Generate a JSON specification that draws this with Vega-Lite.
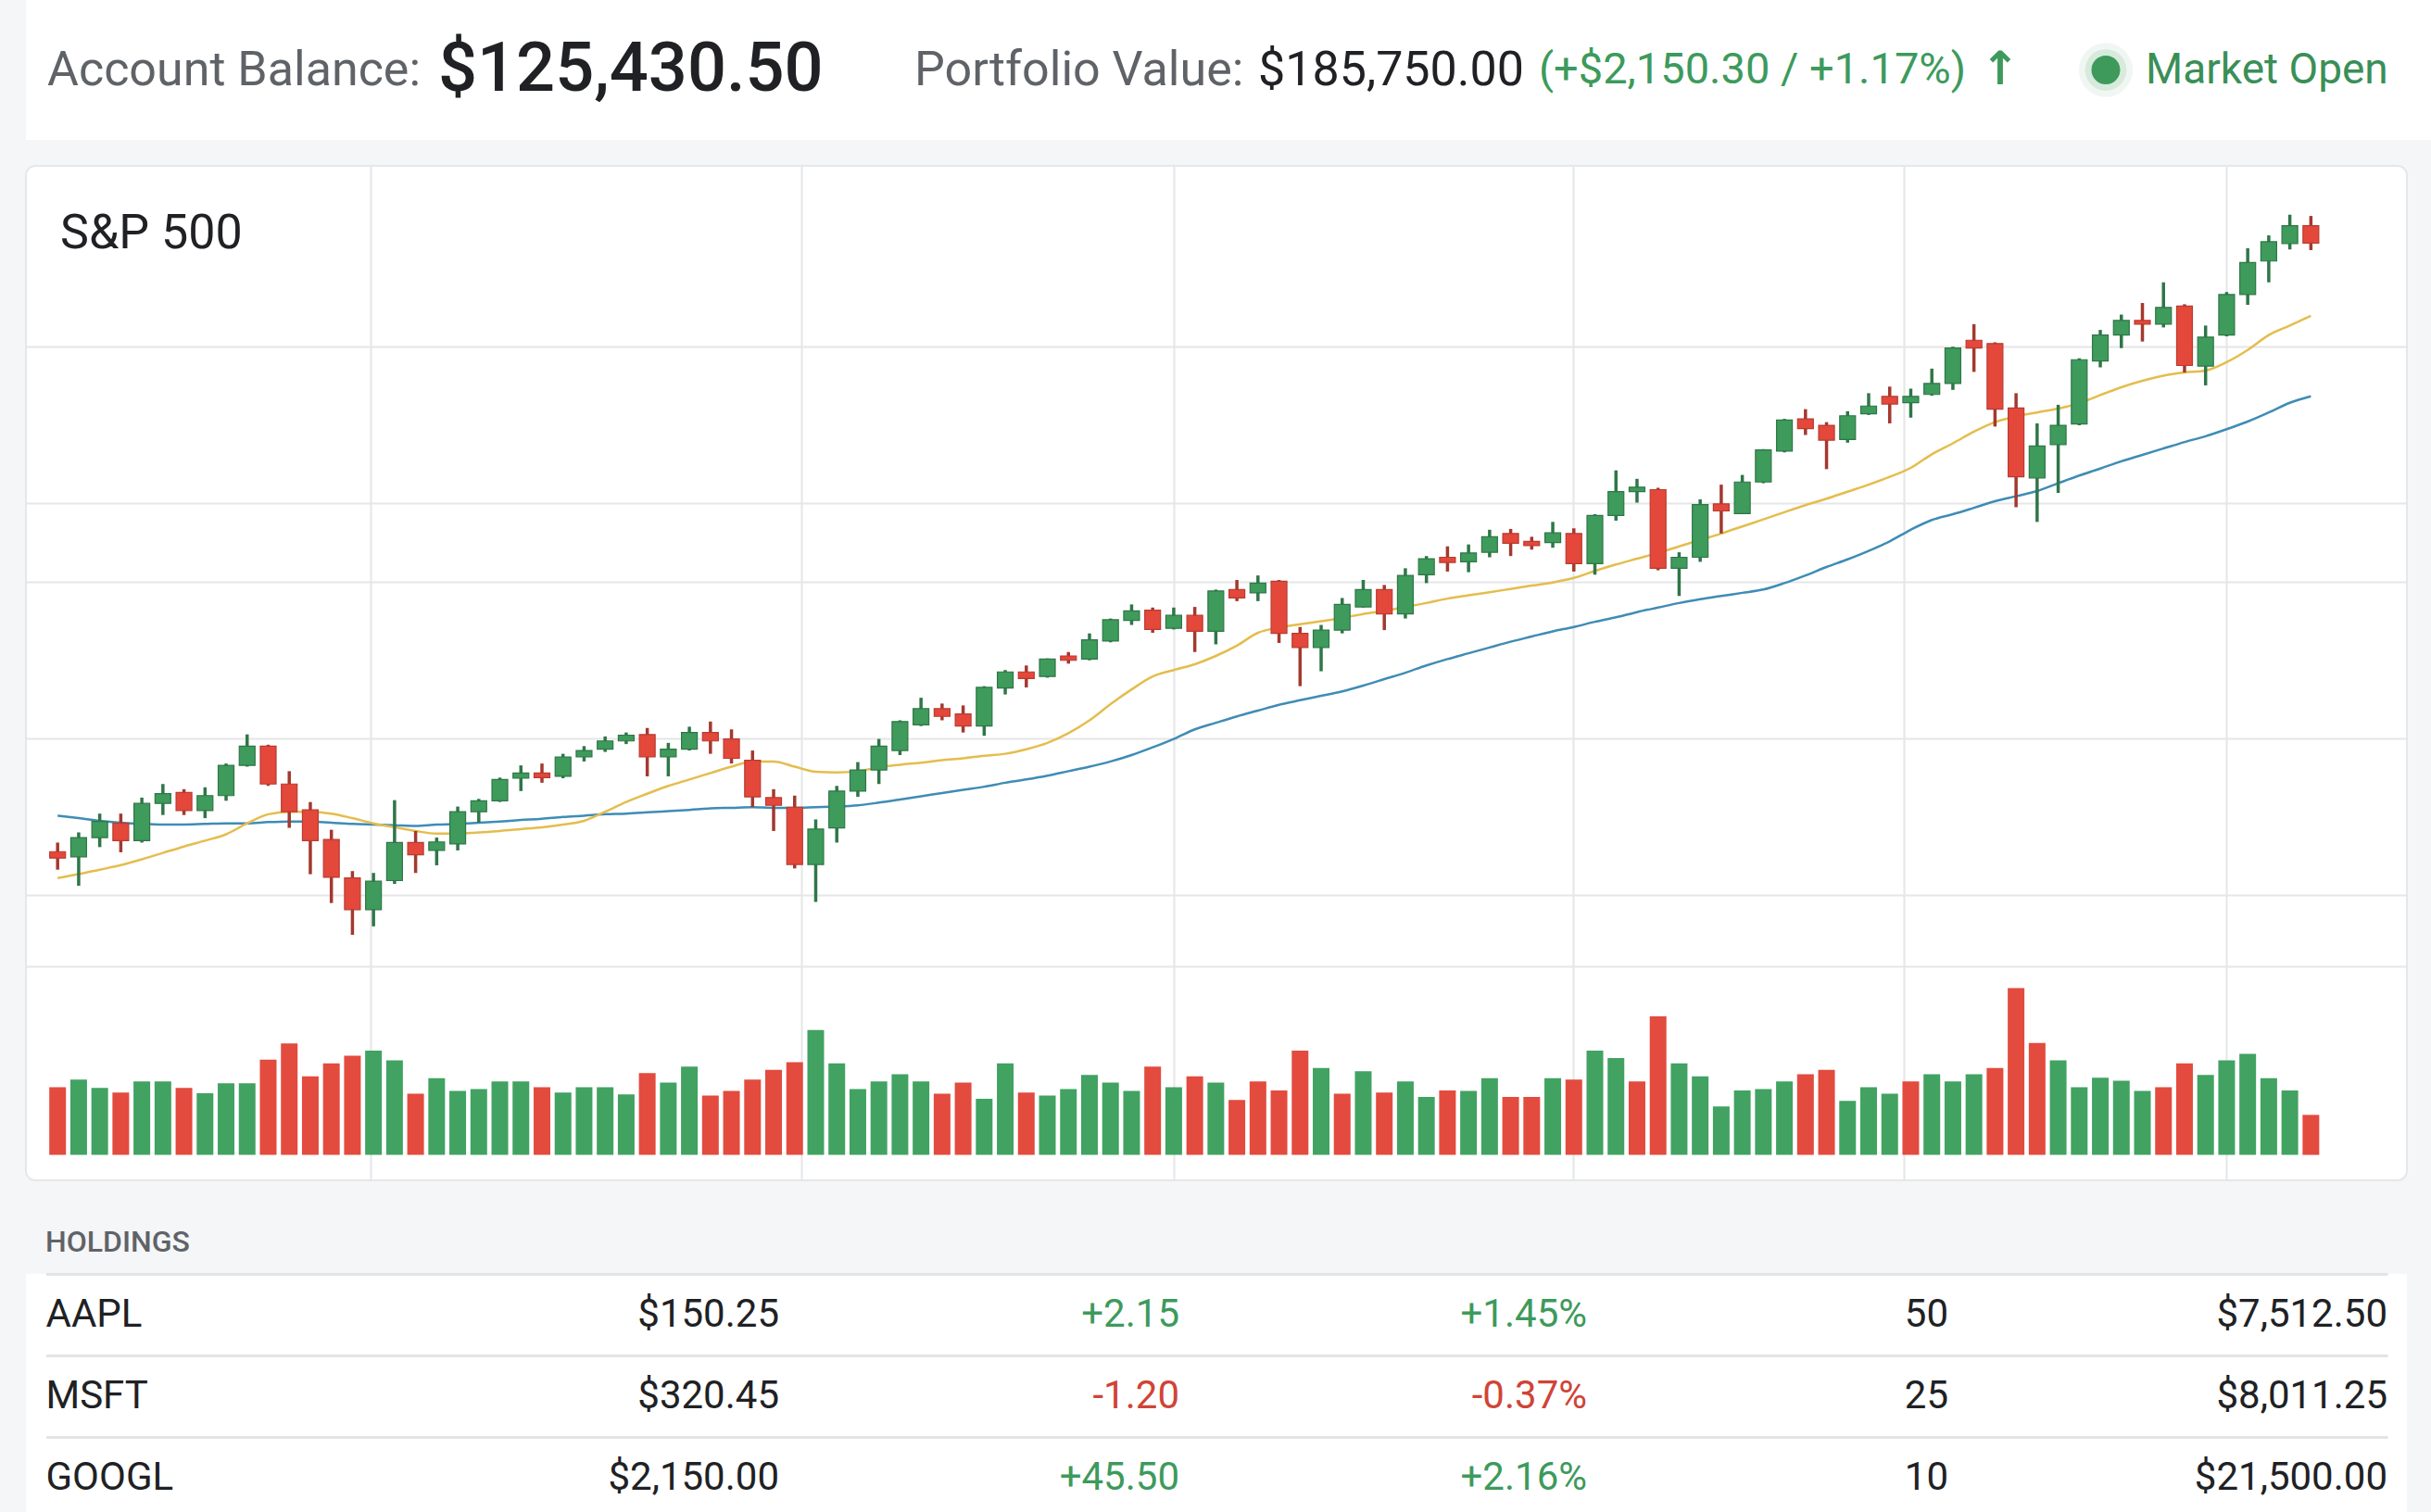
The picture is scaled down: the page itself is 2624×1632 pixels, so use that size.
{
  "$schema": "https://vega.github.io/schema/vega-lite/v6.json",
  "padding": {"left": 27, "top": 0, "right": 0, "bottom": 0},
  "background": "#f5f6f8",
  "spacing": 27,
  "config": {
    "view": {"stroke": null},
    "font": "Roboto",
    "locale": {"number": {"decimal": ".", "thousands": ",", "grouping": [3], "currency": ["$", ""], "minus": "-"}},
    "axis": {"labels": false, "ticks": false, "domain": false, "title": null}
  },
  "datasets": {
    "summary": [{"balance": 125430.5, "portfolio": 185750.0, "change": "(+$2,150.30 / +1.17%)", "status": "Market Open"}],
    "holdings": [
      {"symbol": "AAPL", "price": 150.25, "change": 2.15, "pct": 0.0145, "qty": 50, "value": 7512.5},
      {"symbol": "MSFT", "price": 320.45, "change": -1.2, "pct": -0.0037, "qty": 25, "value": 8011.25},
      {"symbol": "GOOGL", "price": 2150.0, "change": 45.5, "pct": 0.0216, "qty": 10, "value": 21500.0}
    ],
    "candles": [
      {"day":0,"open":4477.4,"high":4483.2,"low":4465.9,"close":4473.3,"volume":2.18,"volDir":"down","sma20":4460.5,"sma50":4500.4},
      {"day":1,"open":4474.1,"high":4489.7,"low":4455.6,"close":4486.4,"volume":2.43,"volDir":"up","sma20":4463.0,"sma50":4498.8},
      {"day":2,"open":4486.4,"high":4501.7,"low":4480.3,"close":4496.7,"volume":2.16,"volDir":"up","sma20":4465.9,"sma50":4497.1},
      {"day":3,"open":4495.5,"high":4501.7,"low":4477.0,"close":4484.4,"volume":2.01,"volDir":"down","sma20":4468.8,"sma50":4495.9},
      {"day":4,"open":4484.4,"high":4511.9,"low":4483.2,"close":4508.2,"volume":2.37,"volDir":"up","sma20":4472.5,"sma50":4495.1},
      {"day":5,"open":4508.2,"high":4520.6,"low":4500.8,"close":4514.4,"volume":2.37,"volDir":"up","sma20":4476.6,"sma50":4494.7},
      {"day":6,"open":4515.2,"high":4517.3,"low":4500.8,"close":4503.7,"volume":2.16,"volDir":"down","sma20":4480.7,"sma50":4494.7},
      {"day":7,"open":4503.7,"high":4518.5,"low":4498.8,"close":4513.2,"volume":1.99,"volDir":"up","sma20":4484.4,"sma50":4495.1},
      {"day":8,"open":4513.2,"high":4533.7,"low":4509.9,"close":4532.5,"volume":2.31,"volDir":"up","sma20":4488.5,"sma50":4495.5},
      {"day":9,"open":4532.5,"high":4552.3,"low":4531.7,"close":4544.8,"volume":2.31,"volDir":"up","sma20":4495.5,"sma50":4495.5},
      {"day":10,"open":4544.8,"high":4545.7,"low":4519.4,"close":4520.6,"volume":3.07,"volDir":"down","sma20":4501.3,"sma50":4496.3},
      {"day":11,"open":4520.6,"high":4528.8,"low":4492.6,"close":4502.9,"volume":3.59,"volDir":"down","sma20":4502.9,"sma50":4496.7},
      {"day":12,"open":4504.1,"high":4509.1,"low":4463.0,"close":4484.4,"volume":2.53,"volDir":"down","sma20":4502.9,"sma50":4496.7},
      {"day":13,"open":4485.2,"high":4491.4,"low":4444.6,"close":4461.0,"volume":2.95,"volDir":"down","sma20":4501.7,"sma50":4495.9},
      {"day":14,"open":4460.6,"high":4465.0,"low":4424.3,"close":4440.4,"volume":3.20,"volDir":"down","sma20":4498.8,"sma50":4495.1},
      {"day":15,"open":4440.4,"high":4463.8,"low":4429.7,"close":4458.5,"volume":3.36,"volDir":"up","sma20":4495.5,"sma50":4494.7},
      {"day":16,"open":4458.9,"high":4510.3,"low":4456.8,"close":4483.2,"volume":3.05,"volDir":"up","sma20":4493.0,"sma50":4494.3},
      {"day":17,"open":4483.2,"high":4490.6,"low":4463.8,"close":4475.4,"volume":1.97,"volDir":"down","sma20":4490.6,"sma50":4493.8},
      {"day":18,"open":4478.2,"high":4486.4,"low":4468.7,"close":4483.6,"volume":2.47,"volDir":"up","sma20":4488.9,"sma50":4494.7},
      {"day":19,"open":4482.3,"high":4506.2,"low":4478.2,"close":4502.9,"volume":2.06,"volDir":"up","sma20":4488.9,"sma50":4495.1},
      {"day":20,"open":4502.9,"high":4511.1,"low":4495.9,"close":4509.9,"volume":2.12,"volDir":"up","sma20":4489.7,"sma50":4495.9},
      {"day":21,"open":4509.9,"high":4524.7,"low":4509.1,"close":4523.5,"volume":2.37,"volDir":"up","sma20":4490.6,"sma50":4496.7},
      {"day":22,"open":4524.3,"high":4532.5,"low":4516.1,"close":4527.6,"volume":2.37,"volDir":"up","sma20":4491.8,"sma50":4497.6},
      {"day":23,"open":4527.6,"high":4533.7,"low":4521.4,"close":4524.7,"volume":2.18,"volDir":"down","sma20":4493.0,"sma50":4498.4},
      {"day":24,"open":4525.5,"high":4539.9,"low":4524.3,"close":4537.9,"volume":2.01,"volDir":"up","sma20":4494.7,"sma50":4499.6},
      {"day":25,"open":4537.9,"high":4544.8,"low":4535.0,"close":4542.0,"volume":2.18,"volDir":"up","sma20":4497.1,"sma50":4500.4},
      {"day":26,"open":4542.8,"high":4551.0,"low":4541.1,"close":4548.1,"volume":2.18,"volDir":"up","sma20":4502.9,"sma50":4501.3},
      {"day":27,"open":4548.1,"high":4553.5,"low":4546.1,"close":4551.8,"volume":1.95,"volDir":"up","sma20":4509.1,"sma50":4501.7},
      {"day":28,"open":4552.2,"high":4556.4,"low":4525.5,"close":4537.9,"volume":2.64,"volDir":"down","sma20":4514.4,"sma50":4502.5},
      {"day":29,"open":4537.9,"high":4546.9,"low":4525.5,"close":4542.8,"volume":2.33,"volDir":"up","sma20":4519.4,"sma50":4503.3},
      {"day":30,"open":4542.8,"high":4557.2,"low":4542.0,"close":4553.5,"volume":2.85,"volDir":"up","sma20":4523.5,"sma50":4504.1},
      {"day":31,"open":4553.5,"high":4560.5,"low":4539.9,"close":4548.1,"volume":1.91,"volDir":"down","sma20":4527.6,"sma50":4505.0},
      {"day":32,"open":4549.4,"high":4555.5,"low":4533.7,"close":4537.0,"volume":2.06,"volDir":"down","sma20":4531.7,"sma50":4505.4},
      {"day":33,"open":4535.8,"high":4542.0,"low":4505.8,"close":4512.4,"volume":2.43,"volDir":"down","sma20":4535.0,"sma50":4505.8},
      {"day":34,"open":4511.9,"high":4517.3,"low":4490.6,"close":4507.0,"volume":2.74,"volDir":"down","sma20":4535.0,"sma50":4505.4},
      {"day":35,"open":4505.8,"high":4513.2,"low":4466.7,"close":4469.2,"volume":2.99,"volDir":"down","sma20":4531.7,"sma50":4505.4},
      {"day":36,"open":4469.2,"high":4498.0,"low":4445.3,"close":4491.8,"volume":4.03,"volDir":"up","sma20":4528.4,"sma50":4505.8},
      {"day":37,"open":4492.6,"high":4519.4,"low":4483.2,"close":4516.1,"volume":2.95,"volDir":"up","sma20":4528.0,"sma50":4506.2},
      {"day":38,"open":4516.1,"high":4534.6,"low":4512.4,"close":4529.6,"volume":2.12,"volDir":"up","sma20":4528.8,"sma50":4507.0},
      {"day":39,"open":4529.6,"high":4549.4,"low":4520.6,"close":4544.8,"volume":2.37,"volDir":"up","sma20":4531.3,"sma50":4508.7},
      {"day":40,"open":4542.0,"high":4561.3,"low":4539.1,"close":4560.5,"volume":2.60,"volDir":"up","sma20":4532.9,"sma50":4510.7},
      {"day":41,"open":4558.4,"high":4575.7,"low":4557.6,"close":4568.7,"volume":2.37,"volDir":"up","sma20":4534.2,"sma50":4512.8},
      {"day":42,"open":4568.7,"high":4572.0,"low":4561.3,"close":4563.8,"volume":1.97,"volDir":"down","sma20":4535.8,"sma50":4514.8},
      {"day":43,"open":4565.4,"high":4570.8,"low":4553.5,"close":4557.6,"volume":2.33,"volDir":"down","sma20":4537.0,"sma50":4516.9},
      {"day":44,"open":4557.6,"high":4583.1,"low":4551.4,"close":4582.3,"volume":1.81,"volDir":"up","sma20":4538.7,"sma50":4518.9},
      {"day":45,"open":4581.9,"high":4593.4,"low":4577.8,"close":4592.2,"volume":2.95,"volDir":"up","sma20":4539.9,"sma50":4521.4},
      {"day":46,"open":4592.2,"high":4596.3,"low":4582.3,"close":4588.0,"volume":2.01,"volDir":"down","sma20":4542.8,"sma50":4523.5},
      {"day":47,"open":4589.3,"high":4600.8,"low":4588.5,"close":4600.4,"volume":1.91,"volDir":"up","sma20":4546.9,"sma50":4525.9},
      {"day":48,"open":4602.4,"high":4604.9,"low":4597.5,"close":4599.6,"volume":2.12,"volDir":"up","sma20":4553.1,"sma50":4528.8},
      {"day":49,"open":4600.4,"high":4616.8,"low":4599.6,"close":4612.7,"volume":2.58,"volDir":"up","sma20":4561.3,"sma50":4531.7},
      {"day":50,"open":4611.9,"high":4626.3,"low":4611.1,"close":4625.5,"volume":2.33,"volDir":"up","sma20":4571.6,"sma50":4535.0},
      {"day":51,"open":4625.1,"high":4635.3,"low":4622.2,"close":4631.2,"volume":2.06,"volDir":"up","sma20":4581.0,"sma50":4539.1},
      {"day":52,"open":4631.6,"high":4633.3,"low":4617.2,"close":4619.3,"volume":2.85,"volDir":"down","sma20":4589.3,"sma50":4544.0},
      {"day":53,"open":4620.1,"high":4633.3,"low":4619.3,"close":4628.3,"volume":2.18,"volDir":"up","sma20":4593.4,"sma50":4549.4},
      {"day":54,"open":4628.3,"high":4633.7,"low":4604.9,"close":4618.1,"volume":2.53,"volDir":"down","sma20":4597.1,"sma50":4555.5},
      {"day":55,"open":4618.1,"high":4644.8,"low":4609.8,"close":4643.9,"volume":2.33,"volDir":"up","sma20":4602.4,"sma50":4559.7},
      {"day":56,"open":4644.8,"high":4650.9,"low":4637.4,"close":4639.4,"volume":1.77,"volDir":"down","sma20":4609.0,"sma50":4563.8},
      {"day":57,"open":4642.7,"high":4653.8,"low":4637.4,"close":4648.9,"volume":2.37,"volDir":"down","sma20":4617.2,"sma50":4567.5},
      {"day":58,"open":4650.1,"high":4650.9,"low":4610.7,"close":4616.8,"volume":2.08,"volDir":"down","sma20":4620.5,"sma50":4571.2},
      {"day":59,"open":4616.8,"high":4620.9,"low":4583.1,"close":4607.8,"volume":3.36,"volDir":"down","sma20":4622.6,"sma50":4574.1},
      {"day":60,"open":4607.8,"high":4622.2,"low":4592.6,"close":4618.9,"volume":2.80,"volDir":"up","sma20":4624.6,"sma50":4576.9},
      {"day":61,"open":4618.9,"high":4639.4,"low":4616.8,"close":4635.3,"volume":1.97,"volDir":"down","sma20":4626.7,"sma50":4579.8},
      {"day":62,"open":4633.7,"high":4650.9,"low":4633.3,"close":4644.8,"volume":2.70,"volDir":"up","sma20":4629.2,"sma50":4583.5},
      {"day":63,"open":4644.8,"high":4647.7,"low":4618.9,"close":4629.2,"volume":2.01,"volDir":"down","sma20":4631.2,"sma50":4587.6},
      {"day":64,"open":4629.2,"high":4658.4,"low":4626.3,"close":4653.8,"volume":2.37,"volDir":"up","sma20":4633.7,"sma50":4591.7},
      {"day":65,"open":4654.3,"high":4666.2,"low":4648.9,"close":4664.5,"volume":1.87,"volDir":"up","sma20":4636.2,"sma50":4596.3},
      {"day":66,"open":4665.4,"high":4672.4,"low":4656.3,"close":4662.1,"volume":2.08,"volDir":"down","sma20":4639.0,"sma50":4600.4},
      {"day":67,"open":4662.5,"high":4673.6,"low":4655.9,"close":4668.2,"volume":2.06,"volDir":"up","sma20":4641.1,"sma50":4604.1},
      {"day":68,"open":4668.6,"high":4683.0,"low":4665.4,"close":4678.5,"volume":2.47,"volDir":"up","sma20":4643.1,"sma50":4607.8},
      {"day":69,"open":4680.6,"high":4683.5,"low":4666.2,"close":4674.4,"volume":1.87,"volDir":"down","sma20":4645.2,"sma50":4611.5},
      {"day":70,"open":4675.6,"high":4678.5,"low":4670.3,"close":4672.8,"volume":1.87,"volDir":"down","sma20":4647.3,"sma50":4614.8},
      {"day":71,"open":4674.8,"high":4688.0,"low":4671.5,"close":4681.0,"volume":2.47,"volDir":"up","sma20":4649.3,"sma50":4618.1},
      {"day":72,"open":4680.6,"high":4683.9,"low":4656.3,"close":4661.3,"volume":2.43,"volDir":"down","sma20":4652.2,"sma50":4620.9},
      {"day":73,"open":4661.3,"high":4692.9,"low":4654.3,"close":4692.1,"volume":3.36,"volDir":"up","sma20":4656.7,"sma50":4624.2},
      {"day":74,"open":4692.1,"high":4720.9,"low":4688.8,"close":4707.3,"volume":3.12,"volDir":"up","sma20":4660.8,"sma50":4627.1},
      {"day":75,"open":4707.3,"high":4715.5,"low":4700.3,"close":4710.2,"volume":2.37,"volDir":"down","sma20":4664.5,"sma50":4630.4},
      {"day":76,"open":4708.6,"high":4709.8,"low":4657.1,"close":4658.4,"volume":4.47,"volDir":"down","sma20":4668.2,"sma50":4633.3},
      {"day":77,"open":4658.4,"high":4668.6,"low":4640.7,"close":4665.4,"volume":2.95,"volDir":"up","sma20":4672.4,"sma50":4636.2},
      {"day":78,"open":4665.4,"high":4702.4,"low":4662.5,"close":4699.1,"volume":2.53,"volDir":"up","sma20":4676.5,"sma50":4638.6},
      {"day":79,"open":4699.5,"high":4711.8,"low":4680.6,"close":4695.0,"volume":1.56,"volDir":"up","sma20":4680.6,"sma50":4640.7},
      {"day":80,"open":4693.3,"high":4718.0,"low":4692.9,"close":4713.5,"volume":2.08,"volDir":"up","sma20":4685.1,"sma50":4642.7},
      {"day":81,"open":4713.5,"high":4734.5,"low":4712.7,"close":4734.0,"volume":2.12,"volDir":"up","sma20":4689.6,"sma50":4644.8},
      {"day":82,"open":4733.2,"high":4753.8,"low":4732.4,"close":4753.0,"volume":2.37,"volDir":"up","sma20":4694.2,"sma50":4648.9},
      {"day":83,"open":4753.8,"high":4760.0,"low":4743.5,"close":4747.6,"volume":2.60,"volDir":"down","sma20":4698.7,"sma50":4653.8},
      {"day":84,"open":4749.7,"high":4751.7,"low":4721.7,"close":4740.2,"volume":2.74,"volDir":"down","sma20":4702.8,"sma50":4659.2},
      {"day":85,"open":4740.6,"high":4758.7,"low":4738.6,"close":4755.8,"volume":1.74,"volDir":"up","sma20":4707.3,"sma50":4664.1},
      {"day":86,"open":4757.1,"high":4770.2,"low":4756.3,"close":4762.0,"volume":2.18,"volDir":"up","sma20":4711.8,"sma50":4669.5},
      {"day":87,"open":4768.2,"high":4774.4,"low":4750.9,"close":4763.3,"volume":1.97,"volDir":"up","sma20":4716.8,"sma50":4675.6},
      {"day":88,"open":4764.1,"high":4773.1,"low":4754.6,"close":4768.2,"volume":2.37,"volDir":"down","sma20":4722.5,"sma50":4683.0},
      {"day":89,"open":4769.4,"high":4785.9,"low":4768.6,"close":4776.4,"volume":2.60,"volDir":"up","sma20":4731.2,"sma50":4689.2},
      {"day":90,"open":4776.4,"high":4799.9,"low":4772.3,"close":4799.0,"volume":2.37,"volDir":"up","sma20":4738.2,"sma50":4692.9},
      {"day":91,"open":4804.0,"high":4814.3,"low":4783.8,"close":4799.0,"volume":2.60,"volDir":"up","sma20":4745.6,"sma50":4697.0},
      {"day":92,"open":4801.9,"high":4802.7,"low":4748.9,"close":4760.0,"volume":2.80,"volDir":"down","sma20":4751.7,"sma50":4701.2},
      {"day":93,"open":4760.8,"high":4770.2,"low":4697.4,"close":4716.8,"volume":5.38,"volDir":"down","sma20":4755.4,"sma50":4704.4},
      {"day":94,"open":4716.0,"high":4750.9,"low":4688.0,"close":4736.5,"volume":3.61,"volDir":"down","sma20":4757.9,"sma50":4707.7},
      {"day":95,"open":4737.3,"high":4762.8,"low":4706.5,"close":4749.7,"volume":3.05,"volDir":"up","sma20":4760.4,"sma50":4712.7},
      {"day":96,"open":4750.5,"high":4792.5,"low":4749.7,"close":4791.6,"volume":2.18,"volDir":"up","sma20":4763.7,"sma50":4717.6},
      {"day":97,"open":4790.8,"high":4810.6,"low":4786.7,"close":4807.3,"volume":2.49,"volDir":"up","sma20":4769.0,"sma50":4722.1},
      {"day":98,"open":4807.3,"high":4820.4,"low":4799.0,"close":4816.7,"volume":2.39,"volDir":"up","sma20":4774.0,"sma50":4726.7},
      {"day":99,"open":4816.7,"high":4827.8,"low":4803.2,"close":4814.3,"volume":2.06,"volDir":"up","sma20":4778.1,"sma50":4730.8},
      {"day":100,"open":4814.3,"high":4841.0,"low":4812.2,"close":4825.0,"volume":2.18,"volDir":"down","sma20":4781.4,"sma50":4734.9},
      {"day":101,"open":4825.8,"high":4827.0,"low":4783.4,"close":4787.9,"volume":2.95,"volDir":"down","sma20":4783.4,"sma50":4739.0},
      {"day":102,"open":4787.5,"high":4813.4,"low":4775.2,"close":4806.0,"volume":2.58,"volDir":"up","sma20":4784.6,"sma50":4742.7},
      {"day":103,"open":4807.3,"high":4834.8,"low":4806.5,"close":4833.2,"volume":3.05,"volDir":"up","sma20":4790.0,"sma50":4747.2},
      {"day":104,"open":4833.2,"high":4862.8,"low":4826.6,"close":4853.7,"volume":3.26,"volDir":"up","sma20":4797.8,"sma50":4752.1},
      {"day":105,"open":4854.6,"high":4871.0,"low":4841.0,"close":4866.9,"volume":2.47,"volDir":"up","sma20":4807.3,"sma50":4757.9},
      {"day":106,"open":4865.7,"high":4884.2,"low":4862.0,"close":4877.2,"volume":2.08,"volDir":"up","sma20":4813.4,"sma50":4764.1},
      {"day":107,"open":4877.2,"high":4883.4,"low":4861.6,"close":4866.1,"volume":1.29,"volDir":"down","sma20":4819.6,"sma50":4768.2}
    ]
  },
  "vconcat": [
    {
      "width": 2597,
      "height": 151,
      "view": {"fill": "#ffffff", "stroke": null},
      "data": {"name": "summary"},
      "layer": [
        {"mark": {"type": "text", "align": "left", "baseline": "middle", "fontSize": 52, "color": "#5f6368"},
         "encoding": {"x": {"datum": 0, "type": "quantitative", "scale": {"domain": [0,1,2,3,4,5,6,7], "range": [23,445,959,1330,1633,2110,2245,2288], "nice": false, "zero": false}, "axis": null}, "text": {"value": "Account Balance:"}}},
        {"mark": {"type": "text", "align": "left", "baseline": "middle", "fontSize": 74, "fontWeight": 500, "color": "#202124"},
         "encoding": {"x": {"datum": 1, "type": "quantitative"}, "text": {"field": "balance", "type": "quantitative", "format": "$,.2f"}}},
        {"mark": {"type": "text", "align": "left", "baseline": "middle", "fontSize": 52, "color": "#5f6368"},
         "encoding": {"x": {"datum": 2, "type": "quantitative"}, "text": {"value": "Portfolio Value:"}}},
        {"mark": {"type": "text", "align": "left", "baseline": "middle", "fontSize": 52, "color": "#202124"},
         "encoding": {"x": {"datum": 3, "type": "quantitative"}, "text": {"field": "portfolio", "type": "quantitative", "format": "$,.2f"}}},
        {"mark": {"type": "text", "align": "left", "baseline": "middle", "fontSize": 47, "color": "#3d9a5c"},
         "encoding": {"x": {"datum": 4, "type": "quantitative"}, "text": {"field": "change", "type": "nominal"}}},
        {"mark": {"type": "text", "align": "left", "baseline": "middle", "fontSize": 50, "fontWeight": "bold", "color": "#3d9a5c", "font": "DejaVu Sans"},
         "encoding": {"x": {"datum": 5, "type": "quantitative"}, "text": {"value": "↑"}}},
        {"mark": {"type": "circle", "size": 3400, "color": "#3d9a5b", "opacity": 0.08},
         "encoding": {"x": {"datum": 6, "type": "quantitative"}}},
        {"mark": {"type": "circle", "size": 2000, "color": "#3d9a5b", "opacity": 0.14},
         "encoding": {"x": {"datum": 6, "type": "quantitative"}}},
        {"mark": {"type": "circle", "size": 960, "color": "#3d9a5b", "opacity": 1},
         "encoding": {"x": {"datum": 6, "type": "quantitative"}}},
        {"mark": {"type": "text", "align": "left", "baseline": "middle", "fontSize": 46, "color": "#3a8f57"},
         "encoding": {"x": {"datum": 7, "type": "quantitative"}, "text": {"field": "status", "type": "nominal"}}}
      ]
    },
    {
      "width": 2570,
      "height": 1095,
      "view": {"fill": "#ffffff", "stroke": "#e6e7e9", "strokeWidth": 2, "cornerRadius": 10},
      "title": {"text": "S&P 500", "anchor": "start", "orient": "top", "frame": "group", "offset": -141, "dx": 37, "baseline": "alphabetic", "fontSize": 52, "fontWeight": "normal", "color": "#202124", "font": "Roboto"},
      "data": {"name": "candles"},
      "layer": [
        {
          "mark": {"type": "bar", "width": 18},
          "encoding": {
            "x": {"field": "day", "type": "quantitative", "scale": {"domain": [-1.284, 111.34], "nice": false, "zero": false},
                  "axis": {"values": [14.87, 35.34, 53.01, 71.95, 87.66, 102.97], "grid": true, "gridColor": "#e5e6e8", "gridWidth": 2, "minExtent": 23, "maxExtent": 23}},
            "y": {"field": "volume", "type": "quantitative", "scale": {"domain": [-0.82, 31.89], "nice": false, "zero": false}, "axis": null},
            "y2": {"datum": 0},
            "color": {"field": "volDir", "type": "nominal", "scale": {"domain": ["up", "down"], "range": ["#41a262", "#e24b3e"]}, "legend": null}
          }
        },
        {
          "encoding": {
            "x": {"field": "day", "type": "quantitative"}
          },
          "layer": [
            {"mark": {"type": "line", "color": "#3f8cb5", "strokeWidth": 2.5, "interpolate": "monotone"},
             "encoding": {"y": {"field": "sma50", "type": "quantitative", "scale": {"domain": [4267.5, 4915.4], "nice": false, "zero": false},
                                "axis": {"values": [4800, 4700, 4650, 4550, 4450, 4404], "grid": true, "gridColor": "#e5e6e8", "gridWidth": 2}}}},
            {"mark": {"type": "line", "color": "#e4bd4d", "strokeWidth": 2.5, "interpolate": "monotone"},
             "encoding": {"y": {"field": "sma20", "type": "quantitative"}}},
            {"mark": {"type": "rule", "strokeWidth": 3.5},
             "encoding": {"y": {"field": "low", "type": "quantitative"}, "y2": {"field": "high"},
                          "color": {"condition": {"test": "datum.close >= datum.open", "value": "#2f7648"}, "value": "#a3392f"}}},
            {"mark": {"type": "bar", "width": 17, "strokeWidth": 1.2},
             "encoding": {"y": {"field": "open", "type": "quantitative"}, "y2": {"field": "close"},
                          "color": {"condition": {"test": "datum.close >= datum.open", "value": "#3e9b5b"}, "value": "#e4483b"},
                          "stroke": {"condition": {"test": "datum.close >= datum.open", "value": "#2f7648"}, "value": "#b83b30"}}}
          ]
        }
      ],
      "resolve": {"scale": {"y": "independent"}}
    },
    {
      "width": 2570,
      "height": 264,
      "view": {"fill": "#ffffff", "stroke": null},
      "title": {"text": "HOLDINGS", "anchor": "start", "orient": "top", "frame": "group", "offset": -8, "dx": 21, "baseline": "alphabetic", "fontSize": 32, "fontWeight": 500, "color": "#5f6368", "font": "Roboto"},
      "data": {"name": "holdings"},
      "encoding": {
        "y": {"field": "symbol", "type": "nominal", "sort": null, "scale": {"paddingInner": 0, "paddingOuter": 0},
              "axis": {"grid": true, "tickBand": "extent", "gridColor": "#e3e4e6", "gridWidth": 3}}
      },
      "layer": [
        {"mark": {"type": "text", "align": "left", "baseline": "middle", "fontSize": 42, "color": "#202124"},
         "encoding": {"x": {"datum": 0, "type": "quantitative", "scale": {"domain": [0,1,2,3,4,5], "range": [21.5,813,1245,1685,2075,2549], "nice": false, "zero": false}, "axis": null},
                      "text": {"field": "symbol", "type": "nominal"}}},
        {"mark": {"type": "text", "align": "right", "baseline": "middle", "fontSize": 42, "color": "#202124"},
         "encoding": {"x": {"datum": 1, "type": "quantitative"}, "text": {"field": "price", "type": "quantitative", "format": "$,.2f"}}},
        {"mark": {"type": "text", "align": "right", "baseline": "middle", "fontSize": 42},
         "encoding": {"x": {"datum": 2, "type": "quantitative"}, "text": {"field": "change", "type": "quantitative", "format": "+.2f"},
                      "color": {"condition": {"test": "datum.change >= 0", "value": "#3d9a5c"}, "value": "#cf4437"}}},
        {"mark": {"type": "text", "align": "right", "baseline": "middle", "fontSize": 42},
         "encoding": {"x": {"datum": 3, "type": "quantitative"}, "text": {"field": "pct", "type": "quantitative", "format": "+.2%"},
                      "color": {"condition": {"test": "datum.change >= 0", "value": "#3d9a5c"}, "value": "#cf4437"}}},
        {"mark": {"type": "text", "align": "right", "baseline": "middle", "fontSize": 42, "color": "#202124"},
         "encoding": {"x": {"datum": 4, "type": "quantitative"}, "text": {"field": "qty", "type": "quantitative", "format": "d"}}},
        {"mark": {"type": "text", "align": "right", "baseline": "middle", "fontSize": 42, "color": "#202124"},
         "encoding": {"x": {"datum": 5, "type": "quantitative"}, "text": {"field": "value", "type": "quantitative", "format": "$,.2f"}}}
      ]
    }
  ]
}
